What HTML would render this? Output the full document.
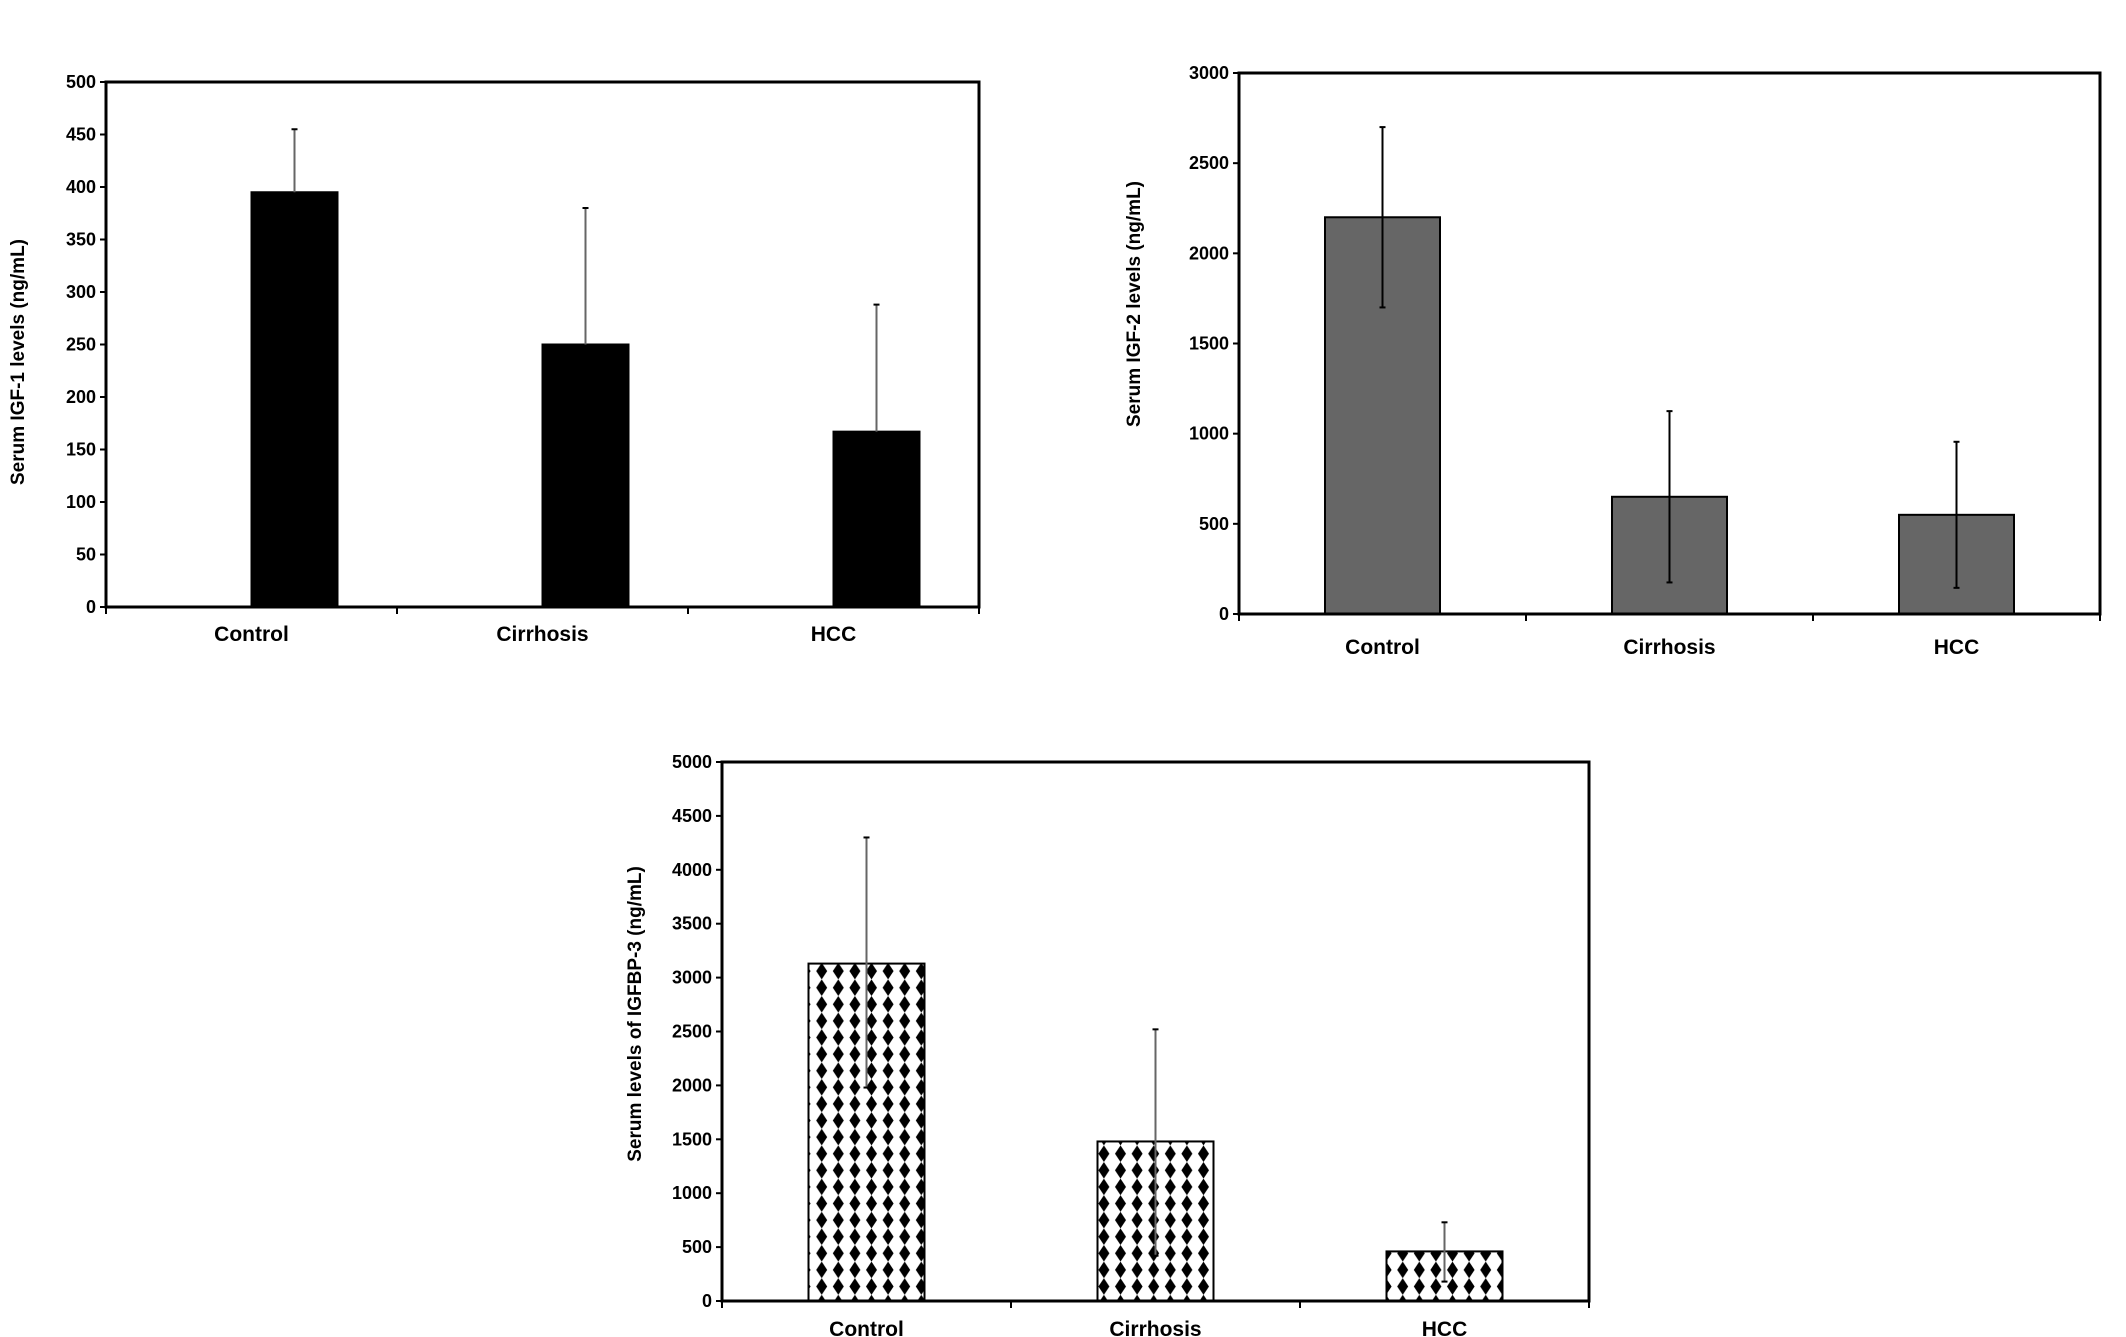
<!DOCTYPE html>
<html><head><meta charset="utf-8"><style>
html,body{margin:0;padding:0;background:#fff;}
svg{display:block;font-family:"Liberation Sans",Arial,sans-serif;font-weight:bold;}
</style></head><body>
<svg id="fig" width="2126" height="1337" viewBox="0 0 2126 1337" xmlns="http://www.w3.org/2000/svg">
<defs>
<pattern id="diam" patternUnits="userSpaceOnUse" width="16.6" height="16.6" x="0" y="0">
<rect width="16.6" height="16.6" fill="#fff"/>
<polygon points="8.3,0 13.8,8.3 8.3,16.6 2.8,8.3" fill="#000"/>
</pattern>
</defs>
</svg>
<script>
const categories = ["Control","Cirrhosis","HCC"];
const igf1Values = [395,250,167];
const igf1ErrUp = [455,380,288];
const igf1Ticks = [0,50,100,150,200,250,300,350,400,450,500];
const igf2Values = [2200,650,550];
const igf2ErrUp = [2700,1125,955];
const igf2ErrLow = [1700,175,145];
const igf2Ticks = [0,500,1000,1500,2000,2500,3000];
const bp3Values = [3130,1480,460];
const bp3ErrUp = [4300,2520,730];
const bp3ErrLow = [1980,420,180];
const bp3Ticks = [0,500,1000,1500,2000,2500,3000,3500,4000,4500,5000];

const NS="http://www.w3.org/2000/svg";
const svg=document.getElementById('fig');
function mk(tag,attrs,parent){const e=document.createElementNS(NS,tag);for(const k in attrs)e.setAttribute(k,attrs[k]);(parent||svg).appendChild(e);return e;}

function chart(cfg){
  const g=mk('g',{});
  
  
  const {L,R,T,B,max}=cfg;
  const y=v=>B-(v/max)*(B-T);
  const band=(R-L)/categories.length;
  const xc=i=>L+band*(i+0.5)+cfg.shift;
  cfg.ticks.forEach(t=>{
    const ln=mk('line',{x1:L-6,x2:L,y1:y(t),y2:y(t),stroke:'#000','stroke-width':2},g);
    
    
    const tx=mk('text',{x:L-10,y:y(t)+6,'text-anchor':'end','font-size':18},g);
    tx.textContent=t;
    
    
  });
  for(let i=0;i<=categories.length;i++){
    const ln=mk('line',{x1:L+band*i,x2:L+band*i,y1:B,y2:B+7,stroke:'#000','stroke-width':2},g);
    
    
  }
  cfg.values.forEach((v,i)=>{
    const r=mk('rect',{x:xc(i)-cfg.bw/2,y:y(v),width:cfg.bw,height:B-y(v),fill:cfg.fill,stroke:'#000','stroke-width':2},g);
    
    
    const lo=cfg.low?cfg.low[i]:v;
    const e=mk('line',{x1:xc(i),x2:xc(i),y1:y(cfg.up[i]),y2:y(lo),stroke:cfg.errColor,'stroke-width':2},g);
    
    
    const c=mk('line',{x1:xc(i)-3,x2:xc(i)+3,y1:y(cfg.up[i]),y2:y(cfg.up[i]),stroke:'#000','stroke-width':2},g);
    
    
    if(cfg.low){
      const c2=mk('line',{x1:xc(i)-3,x2:xc(i)+3,y1:y(lo),y2:y(lo),stroke:'#000','stroke-width':2},g);
      
      
    }
    const lb=mk('text',{x:L+band*(i+0.5),y:cfg.labY,'text-anchor':'middle','font-size':21},g);
    lb.textContent=categories[i];
    
    
  });
  const f=mk('rect',{x:L,y:T,width:R-L,height:B-T,fill:'none',stroke:'#000','stroke-width':3},g);
  
  
  const yt=mk('text',{x:0,y:0,'text-anchor':'middle','font-size':19,transform:`translate(${cfg.titleX},${cfg.titleY}) rotate(-90)`},g);
  yt.textContent=cfg.title;
  
  
}
chart({name:'igf1-chart',L:106,R:979,T:82,B:607,max:500,ticks:igf1Ticks,values:igf1Values,up:igf1ErrUp,low:null,bw:86,fill:'#000',errColor:'#666',shift:43,labY:641,title:'Serum IGF-1 levels (ng/mL)',titleX:24,titleY:362});
chart({name:'igf2-chart',L:1239,R:2100,T:73,B:614,max:3000,ticks:igf2Ticks,values:igf2Values,up:igf2ErrUp,low:igf2ErrLow,bw:115,fill:'#666',errColor:'#000',shift:0,labY:654,title:'Serum IGF-2 levels (ng/mL)',titleX:1140,titleY:304});
chart({name:'igfbp3-chart',L:722,R:1589,T:762,B:1301,max:5000,ticks:bp3Ticks,values:bp3Values,up:bp3ErrUp,low:bp3ErrLow,bw:116,fill:'url(#diam)',errColor:'#666',shift:0,labY:1336,title:'Serum levels of IGFBP-3 (ng/mL)',titleX:641,titleY:1014});
</script>
</body></html>
